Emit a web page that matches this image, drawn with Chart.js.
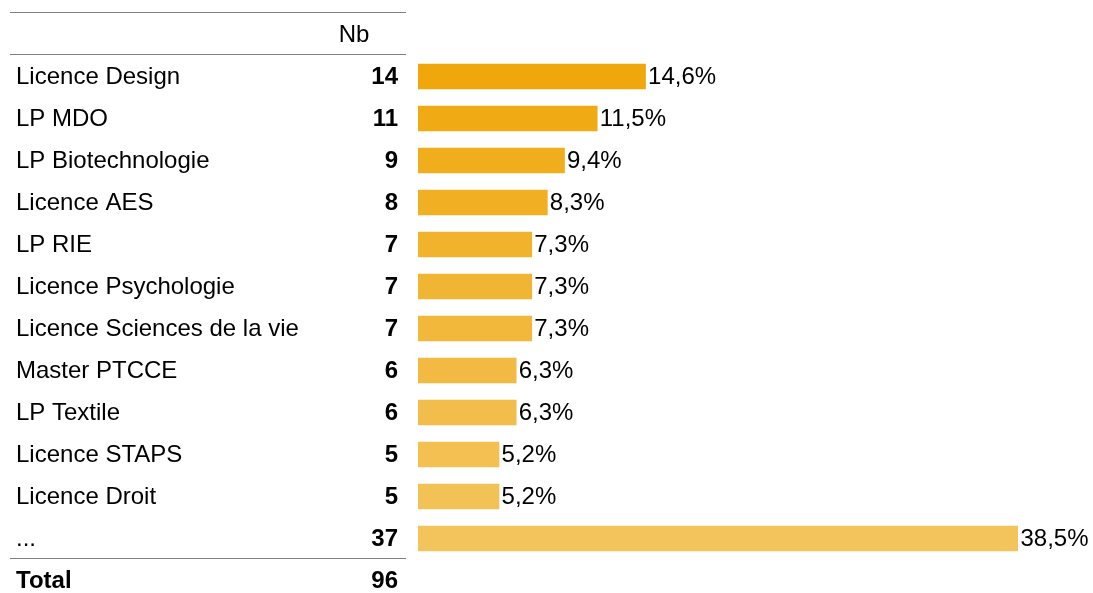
<!DOCTYPE html>
<html>
<head>
<meta charset="utf-8">
<script src="https://cdn.jsdelivr.net/npm/chart.js@4/dist/chart.umd.min.js"></script>
<style>
  html, body { margin: 0; padding: 0; background: #fff; }
  #wrap { width: 1093px; height: 593px; position: relative; }
</style>
</head>
<body>
<div id="wrap"><canvas id="c" width="1093" height="593"></canvas></div>
<script>
const categories = ["Licence Design", "LP MDO", "LP Biotechnologie", "Licence AES", "LP RIE",
  "Licence Psychologie", "Licence Sciences de la vie", "Master PTCCE", "LP Textile",
  "Licence STAPS", "Licence Droit", "..."];
const counts = [14, 11, 9, 8, 7, 7, 7, 6, 6, 5, 5, 37];
const percents = [14.6, 11.5, 9.4, 8.3, 7.3, 7.3, 7.3, 6.3, 6.3, 5.2, 5.2, 38.5];
const percentLabels = ["14,6%", "11,5%", "9,4%", "8,3%", "7,3%", "7,3%", "7,3%", "6,3%", "6,3%", "5,2%", "5,2%", "38,5%"];
const headerLabel = "Nb";
const totalLabel = "Total";
const totalValue = 96;
const barColors = ["#F0A70C", "#F0AA14", "#F0AD1C", "#F1B024", "#F1B22C", "#F1B534",
  "#F2B83C", "#F2BA43", "#F2BD4A", "#F3C051", "#F3C256", "#F3C45B"];

const FONT = '"Liberation Sans", Arial, sans-serif';
const SIZE = 24;

const tablePlugin = {
  id: 'tablePlugin',
  afterDraw(chart) {
    const ctx = chart.ctx;
    const y = chart.scales.y;
    const x = chart.scales.x;
    const step = y.getPixelForValue(1) - y.getPixelForValue(0);
    const labelX = 16, countX = 398, lineL = 10, lineR = 406;
    const base = 7;
    ctx.save();
    ctx.textBaseline = 'alphabetic';
    ctx.fillStyle = '#000';
    ctx.strokeStyle = '#808080';
    ctx.lineWidth = 1;
    const top0 = y.getPixelForValue(0) - step / 2;
    const lines = [Math.floor(top0 - step) - 0.5, Math.floor(top0) - 0.5,
      Math.floor(y.getPixelForValue(categories.length - 1) + step / 2) - 0.5];
    lines.forEach(ly => {
      ctx.beginPath(); ctx.moveTo(lineL, ly); ctx.lineTo(lineR, ly); ctx.stroke();
    });
    ctx.font = SIZE + 'px ' + FONT;
    ctx.textAlign = 'center';
    ctx.fillText(headerLabel, 354, top0 - step / 2 + 7.5);
    categories.forEach((cat, i) => {
      const py = y.getPixelForValue(i) + base;
      ctx.font = SIZE + 'px ' + FONT;
      ctx.textAlign = 'left';
      ctx.fillText(cat, labelX, py);
      ctx.font = 'bold ' + SIZE + 'px ' + FONT;
      ctx.textAlign = 'right';
      ctx.fillText(String(counts[i]), countX, py);
      ctx.font = SIZE + 'px ' + FONT;
      ctx.textAlign = 'left';
      ctx.fillText(percentLabels[i], x.getPixelForValue(percents[i]) + 2.5, py);
    });
    const ty = y.getPixelForValue(categories.length - 1) + step + base;
    ctx.font = 'bold ' + SIZE + 'px ' + FONT;
    ctx.textAlign = 'left';
    ctx.fillText(totalLabel, labelX, ty);
    ctx.textAlign = 'right';
    ctx.fillText(String(totalValue), countX, ty);
    ctx.restore();
  }
};

new Chart(document.getElementById('c'), {
  type: 'bar',
  data: {
    labels: categories,
    datasets: [{
      data: percents,
      backgroundColor: barColors,
      borderWidth: 0,
      barThickness: 25
    }]
  },
  options: {
    indexAxis: 'y',
    responsive: false,
    animation: false,
    layout: { padding: { left: 418, right: 75, top: 55.5, bottom: 33.5 } },
    plugins: { legend: { display: false }, tooltip: { enabled: false } },
    scales: {
      x: { display: false, min: 0, max: 38.5 },
      y: { display: false }
    }
  },
  plugins: [tablePlugin]
});
</script>
</body>
</html>
